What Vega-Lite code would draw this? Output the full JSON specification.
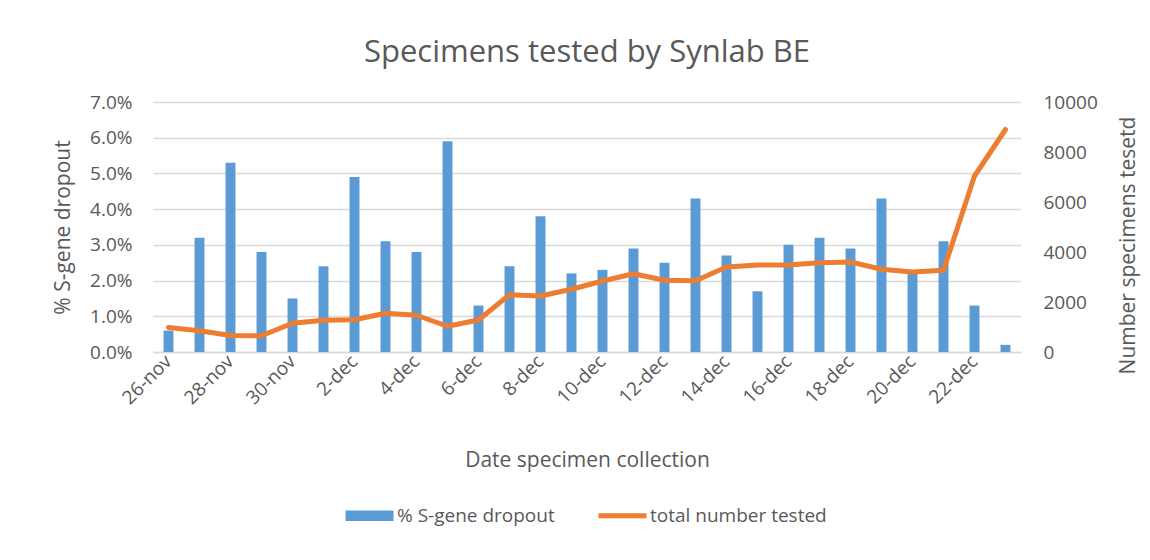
{
  "$schema": "https://vega.github.io/schema/vega-lite/v6.json",
  "width": 868,
  "height": 250,
  "autosize": "none",
  "padding": {"left": 153, "top": 102, "right": 129, "bottom": 208},
  "background": "white",
  "title": {"text": "Specimens tested by Synlab BE", "fontSize": 31, "font": "Open Sans", "fontWeight": "normal", "color": "#595959", "offset": 24, "anchor": "middle"},
  "config": {
    "view": {"stroke": null},
    "font": "Open Sans",
    "axis": {"labelColor": "#595959", "titleColor": "#595959", "labelFontSize": 19, "titleFontSize": 21, "titleFontWeight": "normal", "ticks": false, "domain": false, "gridColor": "#d9d9d9", "gridWidth": 1.5, "labelFont": "Open Sans", "titleFont": "Open Sans"}
  },
  "data": {"values": [
    {"date": "26-nov", "dropout": 0.006, "tested": 980},
    {"date": "27-nov", "dropout": 0.032, "tested": 850},
    {"date": "28-nov", "dropout": 0.053, "tested": 660},
    {"date": "29-nov", "dropout": 0.028, "tested": 650},
    {"date": "30-nov", "dropout": 0.015, "tested": 1150},
    {"date": "1-dec", "dropout": 0.024, "tested": 1270},
    {"date": "2-dec", "dropout": 0.049, "tested": 1290},
    {"date": "3-dec", "dropout": 0.031, "tested": 1550},
    {"date": "4-dec", "dropout": 0.028, "tested": 1470},
    {"date": "5-dec", "dropout": 0.059, "tested": 1030},
    {"date": "6-dec", "dropout": 0.013, "tested": 1280},
    {"date": "7-dec", "dropout": 0.024, "tested": 2290},
    {"date": "8-dec", "dropout": 0.038, "tested": 2240},
    {"date": "9-dec", "dropout": 0.022, "tested": 2510},
    {"date": "10-dec", "dropout": 0.023, "tested": 2840},
    {"date": "11-dec", "dropout": 0.029, "tested": 3130},
    {"date": "12-dec", "dropout": 0.025, "tested": 2870},
    {"date": "13-dec", "dropout": 0.043, "tested": 2850},
    {"date": "14-dec", "dropout": 0.027, "tested": 3400},
    {"date": "15-dec", "dropout": 0.017, "tested": 3480},
    {"date": "16-dec", "dropout": 0.030, "tested": 3480},
    {"date": "17-dec", "dropout": 0.032, "tested": 3570},
    {"date": "18-dec", "dropout": 0.029, "tested": 3600},
    {"date": "19-dec", "dropout": 0.043, "tested": 3310},
    {"date": "20-dec", "dropout": 0.022, "tested": 3200},
    {"date": "21-dec", "dropout": 0.031, "tested": 3270},
    {"date": "22-dec", "dropout": 0.013, "tested": 7040},
    {"date": "23-dec", "dropout": 0.002, "tested": 8900}
  ]},
  "encoding": {
    "x": {
      "field": "date", "type": "ordinal", "sort": null,
      "scale": {"paddingInner": 0.68, "paddingOuter": 0.34},
      "axis": {
        "values": ["26-nov", "28-nov", "30-nov", "2-dec", "4-dec", "6-dec", "8-dec", "10-dec", "12-dec", "14-dec", "16-dec", "18-dec", "20-dec", "22-dec"],
        "labelAngle": -45, "labelAlign": "right", "labelBaseline": "middle",
        "title": "Date specimen collection",
        "domain": true, "domainColor": "#d9d9d9", "domainWidth": 1.5,
        "labelPadding": 6, "titlePadding": 42
      }
    }
  },
  "layer": [
    {
      "mark": {"type": "bar"},
      "encoding": {
        "y": {
          "field": "dropout", "type": "quantitative",
          "scale": {"domain": [0, 0.07]},
          "axis": {"values": [0, 0.01, 0.02, 0.03, 0.04, 0.05, 0.06, 0.07], "format": ".1%", "title": "% S-gene dropout", "labelPadding": 21, "titlePadding": 16, "grid": true}
        },
        "color": {
          "datum": "% S-gene dropout", "type": "nominal",
          "scale": {"domain": ["% S-gene dropout", "total number tested"], "range": ["#5b9bd5", "#ed7d31"]},
          "legend": {
            "orient": "none", "legendX": 207, "legendY": 404,
            "direction": "horizontal", "title": null,
            "labelFontSize": 19, "labelColor": "#595959", "labelFont": "Open Sans", "labelLimit": 400,
            "symbolSize": 2304, "columnPadding": 33, "labelOffset": 18,
            "encode": {
              "symbols": {
                "update": {
                  "shape": {"signal": "datum.value === '% S-gene dropout' ? 'M-1,-0.22H1V0.22H-1Z' : 'stroke'"},
                  "fill": {"signal": "datum.value === '% S-gene dropout' ? '#5b9bd5' : 'transparent'"},
                  "stroke": {"signal": "datum.value === '% S-gene dropout' ? 'transparent' : '#ed7d31'"},
                  "strokeWidth": {"signal": "datum.value === '% S-gene dropout' ? 0 : 5"},
                  "opacity": {"value": 1}
                }
              }
            }
          }
        }
      }
    },
    {
      "mark": {"type": "line", "strokeWidth": 5, "interpolate": "linear", "strokeCap": "round", "strokeJoin": "round"},
      "encoding": {
        "y": {
          "field": "tested", "type": "quantitative",
          "scale": {"domain": [0, 10000]},
          "axis": {"orient": "right", "values": [0, 2000, 4000, 6000, 8000, 10000], "format": "d", "title": "Number specimens tesetd", "titleAngle": -90, "titleBaseline": "top", "titleY": 143, "grid": false, "labelPadding": 22, "titlePadding": 20}
        },
        "color": {"datum": "total number tested", "type": "nominal"}
      }
    }
  ],
  "resolve": {"scale": {"y": "independent"}}
}
